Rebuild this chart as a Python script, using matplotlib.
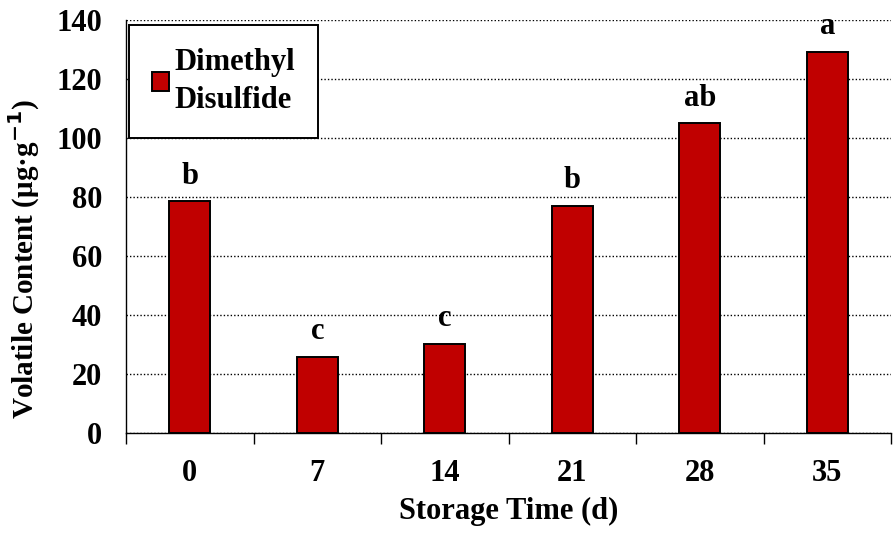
import matplotlib
matplotlib.use("Agg")
import matplotlib.pyplot as plt
import numpy as np

days = ["0", "7", "14", "21", "28", "35"]
dmds = [78.5, 25.8, 30.3, 77.0, 105.0, 129.2]
letters = ["b", "c", "c", "b", "ab", "a"]

plt.rcParams['font.family'] = ['Liberation Serif', 'DejaVu Serif']
plt.rcParams['font.weight'] = 'bold'
fs = 22

fig = plt.figure(figsize=(8.96, 5.35), dpi=100)
ax = fig.add_axes([126 / 896, 1 - 433 / 535, (891 - 126) / 896, (433 - 20) / 535])

x = np.arange(len(days))
ax.bar(x, dmds, width=0.32, color='#C00000', edgecolor='black', linewidth=1.4,
       label='Dimethyl\nDisulfide', zorder=3)

for xi, v, l in zip(x, dmds, letters):
    ax.text(xi, v + 6, l, ha='center', va='baseline', fontsize=fs, fontweight='bold')

ax.set_xlim(-0.5, 5.5)
ax.set_ylim(0, 140)
ax.set_yticks(np.arange(0, 141, 20))
ax.yaxis.grid(True, linestyle=(0, (1, 1.5)), color='black', linewidth=1.0, zorder=0)
ax.set_axisbelow(True)

ax.set_xticks(x)
ax.set_xticklabels(days, fontsize=fs, fontweight='bold')
ax.set_xticks(np.arange(-0.5, 6, 1), minor=True)
ax.tick_params(axis='x', which='major', length=0, pad=19)
ax.tick_params(axis='x', which='minor', length=8, width=1, direction='out')
ax.tick_params(axis='y', length=0, pad=17, labelsize=fs)
for lab in ax.get_yticklabels():
    lab.set_fontweight('bold')

ax.spines['top'].set_visible(False)
ax.spines['right'].set_visible(False)
ax.spines['left'].set_linewidth(1)
ax.spines['bottom'].set_linewidth(1)

ax.set_xlabel('Storage Time (d)', fontsize=fs, fontweight='bold', labelpad=6)
ax.set_ylabel(r'Volatile Content (μg·g$^{\mathbf{-1}}$)', fontsize=21, fontweight='bold')
ax.yaxis.set_label_coords(-0.11, 0.42)

leg = ax.legend(loc='upper left', bbox_to_anchor=(0.0, 0.995), fontsize=fs,
                frameon=True, fancybox=False, edgecolor='black', framealpha=1,
                handlelength=0.55, handleheight=0.55, handletextpad=0.2,
                borderpad=0.75, borderaxespad=0.1)
leg.get_frame().set_linewidth(1.4)
for t in leg.get_texts():
    t.set_fontweight('bold')
    t.set_linespacing(1.4)

fig.savefig('out.png', dpi=100)
